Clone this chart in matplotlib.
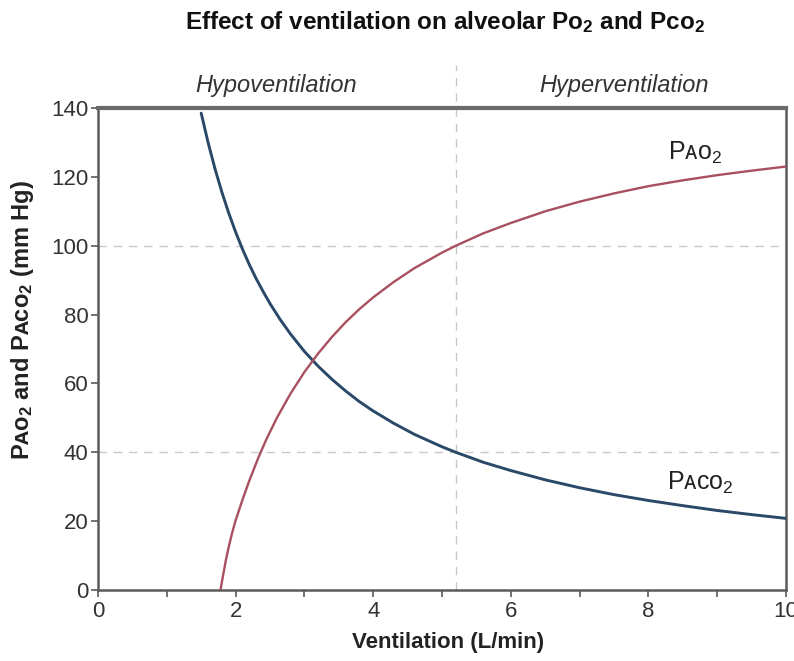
import matplotlib
matplotlib.use("Agg")
import matplotlib.pyplot as plt

plt.rcParams['font.family'] = ['Liberation Sans', 'DejaVu Sans']
plt.rcParams['mathtext.fontset'] = 'custom'
plt.rcParams['mathtext.rm'] = 'Liberation Sans'
plt.rcParams['mathtext.bf'] = 'Liberation Sans:bold'
plt.rcParams['mathtext.it'] = 'Liberation Sans:italic'

# values
vent_co2 = [1.5, 1.6, 1.7, 1.8, 1.9, 2.0, 2.1, 2.2, 2.3, 2.4, 2.5, 2.65, 2.8, 3.0,
            3.2, 3.4, 3.6, 3.8, 4.0, 4.3, 4.6, 5.0, 5.2, 5.6, 6.0, 6.5, 7.0, 7.5,
            8.0, 8.5, 9.0, 9.5, 10.0]
paco2 = [138.5, 130.0, 122.4, 115.6, 109.5, 104.0, 99.0, 94.5, 90.4, 86.7, 83.2, 78.5,
         74.3, 69.3, 65.0, 61.2, 57.8, 54.7, 52.0, 48.4, 45.2, 41.6, 40.0, 37.1, 34.7,
         32.0, 29.7, 27.7, 26.0, 24.5, 23.1, 21.9, 20.8]

vent_o2 = [1.78, 1.82, 1.86, 1.9, 1.95, 2.0, 2.1, 2.2, 2.33, 2.45, 2.6, 2.8, 3.0,
           3.2, 3.4, 3.6, 3.8, 4.0, 4.3, 4.6, 5.0, 5.2, 5.6, 6.0, 6.5, 7.0, 7.5,
           8.0, 8.5, 9.0, 9.5, 10.0]
pao2 = [0.0, 4.5, 8.8, 12.5, 16.6, 20.2, 26.2, 31.8, 38.4, 43.9, 50.0, 57.1, 63.3,
        68.7, 73.5, 77.8, 81.6, 85.0, 89.5, 93.5, 98.0, 100.0, 103.6, 106.6, 110.0,
        112.8, 115.2, 117.3, 119.0, 120.5, 121.8, 123.0]

normal_vent = 5.2
ref_levels = [40, 100]
x_ticks = list(range(0, 11))
y_ticks = list(range(0, 141, 20))

blue = '#2a4868'
red = '#a8505f'
spine_col = '#5a5a5a'
dash_col = '#c8c8c8'

fig = plt.figure(figsize=(7.94, 6.61), dpi=100)
ax = fig.add_axes([0.1234, 0.1074, 0.8666, 0.7292])

for lev in ref_levels:
    ax.axhline(lev, color=dash_col, lw=1, ls=(0, (6, 5)), zorder=1)
ax.axvline(normal_vent, ymin=0, ymax=1.089, color=dash_col, lw=1,
           ls=(0, (6, 5)), clip_on=False, zorder=1)

ax.plot(vent_co2, paco2, color=blue, lw=2.1, solid_capstyle='round',
        solid_joinstyle='round', zorder=3)
ax.plot(vent_o2, pao2, color=red, lw=1.7, solid_joinstyle='round', zorder=3)

ax.set_xlim(0, 10)
ax.set_ylim(0, 140)
ax.set_xticks(x_ticks)
ax.set_xticklabels([str(t) if t % 2 == 0 else '' for t in x_ticks])
ax.set_yticks(y_ticks)
ax.tick_params(axis='x', direction='out', length=5, width=1.2, color=spine_col,
               labelsize=16, labelcolor='#333333', pad=3)
ax.tick_params(axis='y', direction='out', length=5, width=1.2, color=spine_col,
               labelsize=16, labelcolor='#333333', pad=2)
for side in ['left', 'right', 'bottom']:
    ax.spines[side].set_color(spine_col)
    ax.spines[side].set_linewidth(1.8)
ax.spines['top'].set_color('#6a6a6a')
ax.spines['top'].set_linewidth(3)

ax.set_xlabel('Ventilation (L/min)', fontsize=16, fontweight='bold', color='#222222')
ax.xaxis.set_label_coords(0.509, -0.088)
ax.set_ylabel('P\u1d00\u1d0f$_\\mathbf{2}$ and P\u1d00\u1d04\u1d0f$_\\mathbf{2}$ (mm Hg)',
              fontsize=17, fontweight='bold', color='#222222')
ax.yaxis.set_label_coords(-0.09, 0.56)

ax.text(0.259, 1.046, 'Hypoventilation', transform=ax.transAxes, ha='center',
        va='center', fontsize=17, style='italic', color='#333333')
ax.text(0.765, 1.046, 'Hyperventilation', transform=ax.transAxes, ha='center',
        va='center', fontsize=17, style='italic', color='#333333')

ax.text(8.68, 127, 'P\u1d00\u1d0f$_2$', ha='center', va='center', fontsize=18, color='#222222')
ax.text(8.76, 31, 'P\u1d00\u1d04\u1d0f$_2$', ha='center', va='center', fontsize=18, color='#222222')

fig.text(0.56, 0.966, 'Effect of ventilation on alveolar Po$_\\mathbf{2}$ and Pco$_\\mathbf{2}$',
         ha='center', va='center', fontsize=17.5, fontweight='bold', color='#111111')

fig.savefig('out.png', dpi=100)
